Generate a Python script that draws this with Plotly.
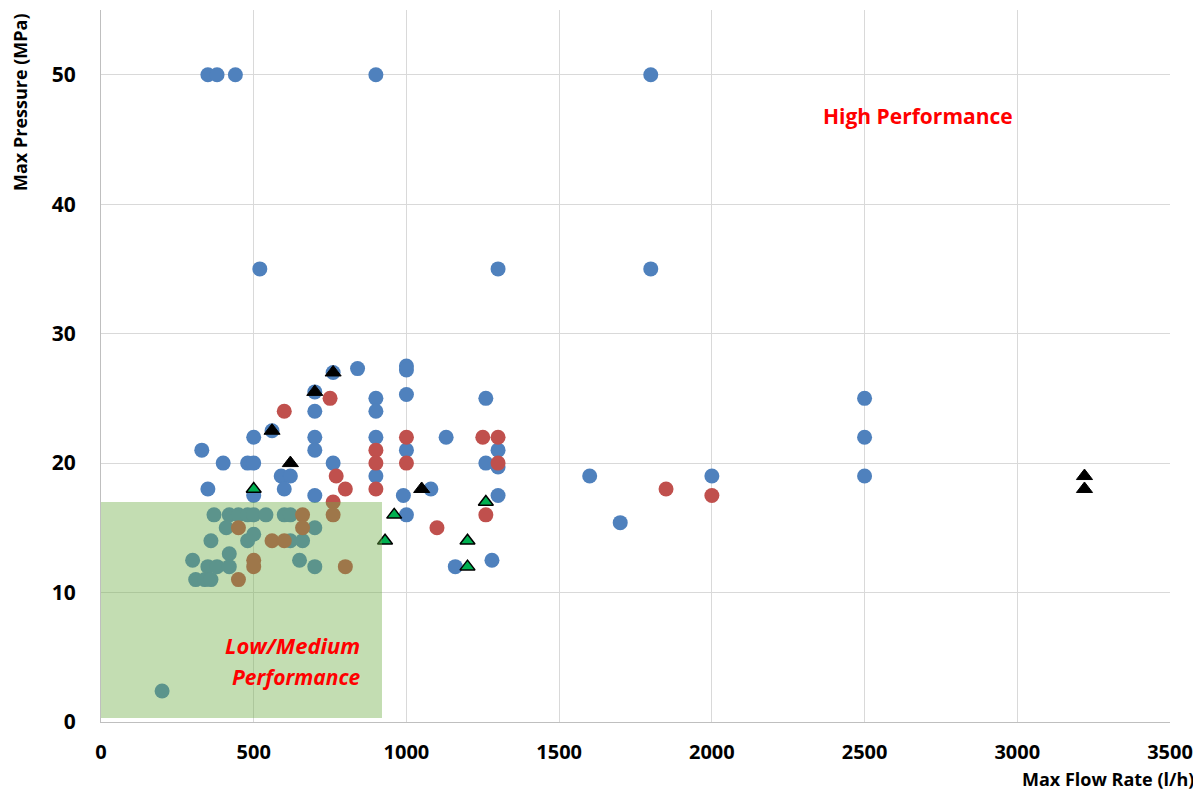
import plotly.graph_objects as go

# Blue circle series
blue_x = [350, 380, 440, 900, 1800,
          520, 1300, 1800,
          760, 840, 1000, 1000,
          700, 900, 1000, 1260,
          700, 900,
          560, 500, 700, 900, 1130,
          330, 700, 1000, 1300,
          400, 480, 500, 760, 1260, 1300,
          590, 620, 900,
          350, 600, 1080,
          500, 700, 990, 1300,
          1000, 1160, 1280,
          1600, 1700, 2000,
          2500, 2500, 2500,
          200,
          370, 420, 450, 480, 500, 540, 600, 620,
          410, 700, 500, 360, 480, 620, 660, 420, 300, 650,
          350, 380, 420, 700, 310, 340, 360]
blue_y = [50, 50, 50, 50, 50,
          35, 35, 35,
          27, 27.3, 27.5, 27.2,
          25.5, 25, 25.3, 25,
          24, 24,
          22.5, 22, 22, 22, 22,
          21, 21, 21, 21,
          20, 20, 20, 20, 20, 19.7,
          19, 19, 19,
          18, 18, 18,
          17.5, 17.5, 17.5, 17.5,
          16, 12, 12.5,
          19, 15.4, 19,
          25, 22, 19,
          2.4,
          16, 16, 16, 16, 16, 16, 16, 16,
          15, 15, 14.5, 14, 14, 14, 14, 13, 12.5, 12.5,
          12, 12, 12, 12, 11, 11, 11]

# Red circle series
red_x = [750, 600, 1000, 1250, 1300, 900, 900, 1000, 1300, 770, 800, 900, 760,
         1260, 1100, 1850, 2000,
         760, 660, 450, 660, 560, 600, 500, 500, 800, 450]
red_y = [25, 24, 22, 22, 22, 21, 20, 20, 20, 19, 18, 18, 17,
         16, 15, 18, 17.5,
         16, 16, 15, 15, 14, 14, 12.5, 12, 12, 11]

# Black triangle series
black_x = [760, 700, 560, 620, 1050, 3220, 3220]
black_y = [27, 25.5, 22.5, 20, 18, 19, 18]

# Green triangle series
green_x = [500, 960, 930, 1260, 1200, 1200]
green_y = [18, 16, 14, 17, 14, 12]

x_ticks = [0, 500, 1000, 1500, 2000, 2500, 3000, 3500]
y_ticks = [0, 10, 20, 30, 40, 50]

FONT = "Open Sans"

# plot area in window pixels (page body adds an 8px offset)
PL, PR, PT, PB = 101, 1170, 10, 722
PW, PH = PR - PL, PB - PT


def px(xp):
    return (xp - PL) / PW


def py(yp):
    return (PB - yp) / PH


fig = go.Figure()
fig.add_trace(go.Scatter(x=blue_x, y=blue_y, mode="markers",
                         marker=dict(symbol="circle", size=15, color="#4F81BD", line=dict(width=0)),
                         showlegend=False))
fig.add_trace(go.Scatter(x=red_x, y=red_y, mode="markers",
                         marker=dict(symbol="circle", size=15, color="#C0504D", line=dict(width=0)),
                         showlegend=False))
fig.add_trace(go.Scatter(x=black_x, y=black_y, mode="markers",
                         marker=dict(symbol="triangle-up", size=14, color="#000000",
                                     line=dict(width=1, color="#000000")),
                         showlegend=False))
fig.add_trace(go.Scatter(x=green_x, y=green_y, mode="markers",
                         marker=dict(symbol="triangle-up", size=13, color="#00B050",
                                     line=dict(width=1.5, color="#000000")),
                         showlegend=False))

fig.add_shape(type="rect", xref="x", yref="y", x0=0, x1=920, y0=0.3, y1=17,
              fillcolor="rgba(112,173,71,0.42)", line=dict(width=0), layer="above")

fig.add_annotation(x=2675, y=46.8, xref="x", yref="y", text="<b>High Performance</b>",
                   showarrow=False, font=dict(family=FONT, size=21, color="#FF0000"))
fig.add_annotation(xref="paper", yref="paper", x=px(292), y=py(645),
                   text="<b><i>Low/Medium</i></b>", showarrow=False,
                   xanchor="center", yanchor="middle",
                   font=dict(family=FONT, size=22, color="#FF0000"))
fig.add_annotation(xref="paper", yref="paper", x=px(296), y=py(677),
                   text="<b><i>Performance</i></b>", showarrow=False,
                   xanchor="center", yanchor="middle",
                   font=dict(family=FONT, size=21, color="#FF0000"))

fig.add_annotation(xref="paper", yref="paper", x=px(20), y=py(102),
                   text="<b>Max Pressure (MPa)</b>", textangle=-90, showarrow=False,
                   xanchor="center", yanchor="middle",
                   font=dict(family=FONT, size=18, color="#000000"))
fig.add_annotation(xref="paper", yref="paper", x=px(1196), y=py(779),
                   text="<b>Max Flow Rate (l/h)</b>", showarrow=False,
                   xanchor="right", yanchor="middle",
                   font=dict(family=FONT, size=18, color="#000000"))

fig.update_layout(
    width=1189, height=786,
    margin=dict(l=93, r=27, t=2, b=72),
    paper_bgcolor="white", plot_bgcolor="white",
    font=dict(family=FONT, color="#000000"),
    xaxis=dict(range=[0, 3500], tickvals=x_ticks, ticktext=[f"<b>{v}</b>" for v in x_ticks],
               showgrid=True, gridcolor="#D9D9D9", gridwidth=1.3,
               showline=True, linecolor="#BFBFBF", linewidth=1.3, zeroline=False,
               ticks="", tickfont=dict(family=FONT, size=20, color="#000000"),
               ticklabelstandoff=12, ticklabeloverflow="allow"),
    yaxis=dict(range=[0, 55], tickvals=y_ticks, ticktext=[f"<b>{v}</b>" for v in y_ticks],
               showgrid=True, gridcolor="#D9D9D9", gridwidth=1.3,
               showline=True, linecolor="#BFBFBF", linewidth=1.3, zeroline=False,
               ticks="", tickfont=dict(family=FONT, size=21, color="#000000"),
               ticklabelstandoff=20),
)

fig.write_html("out.html")
